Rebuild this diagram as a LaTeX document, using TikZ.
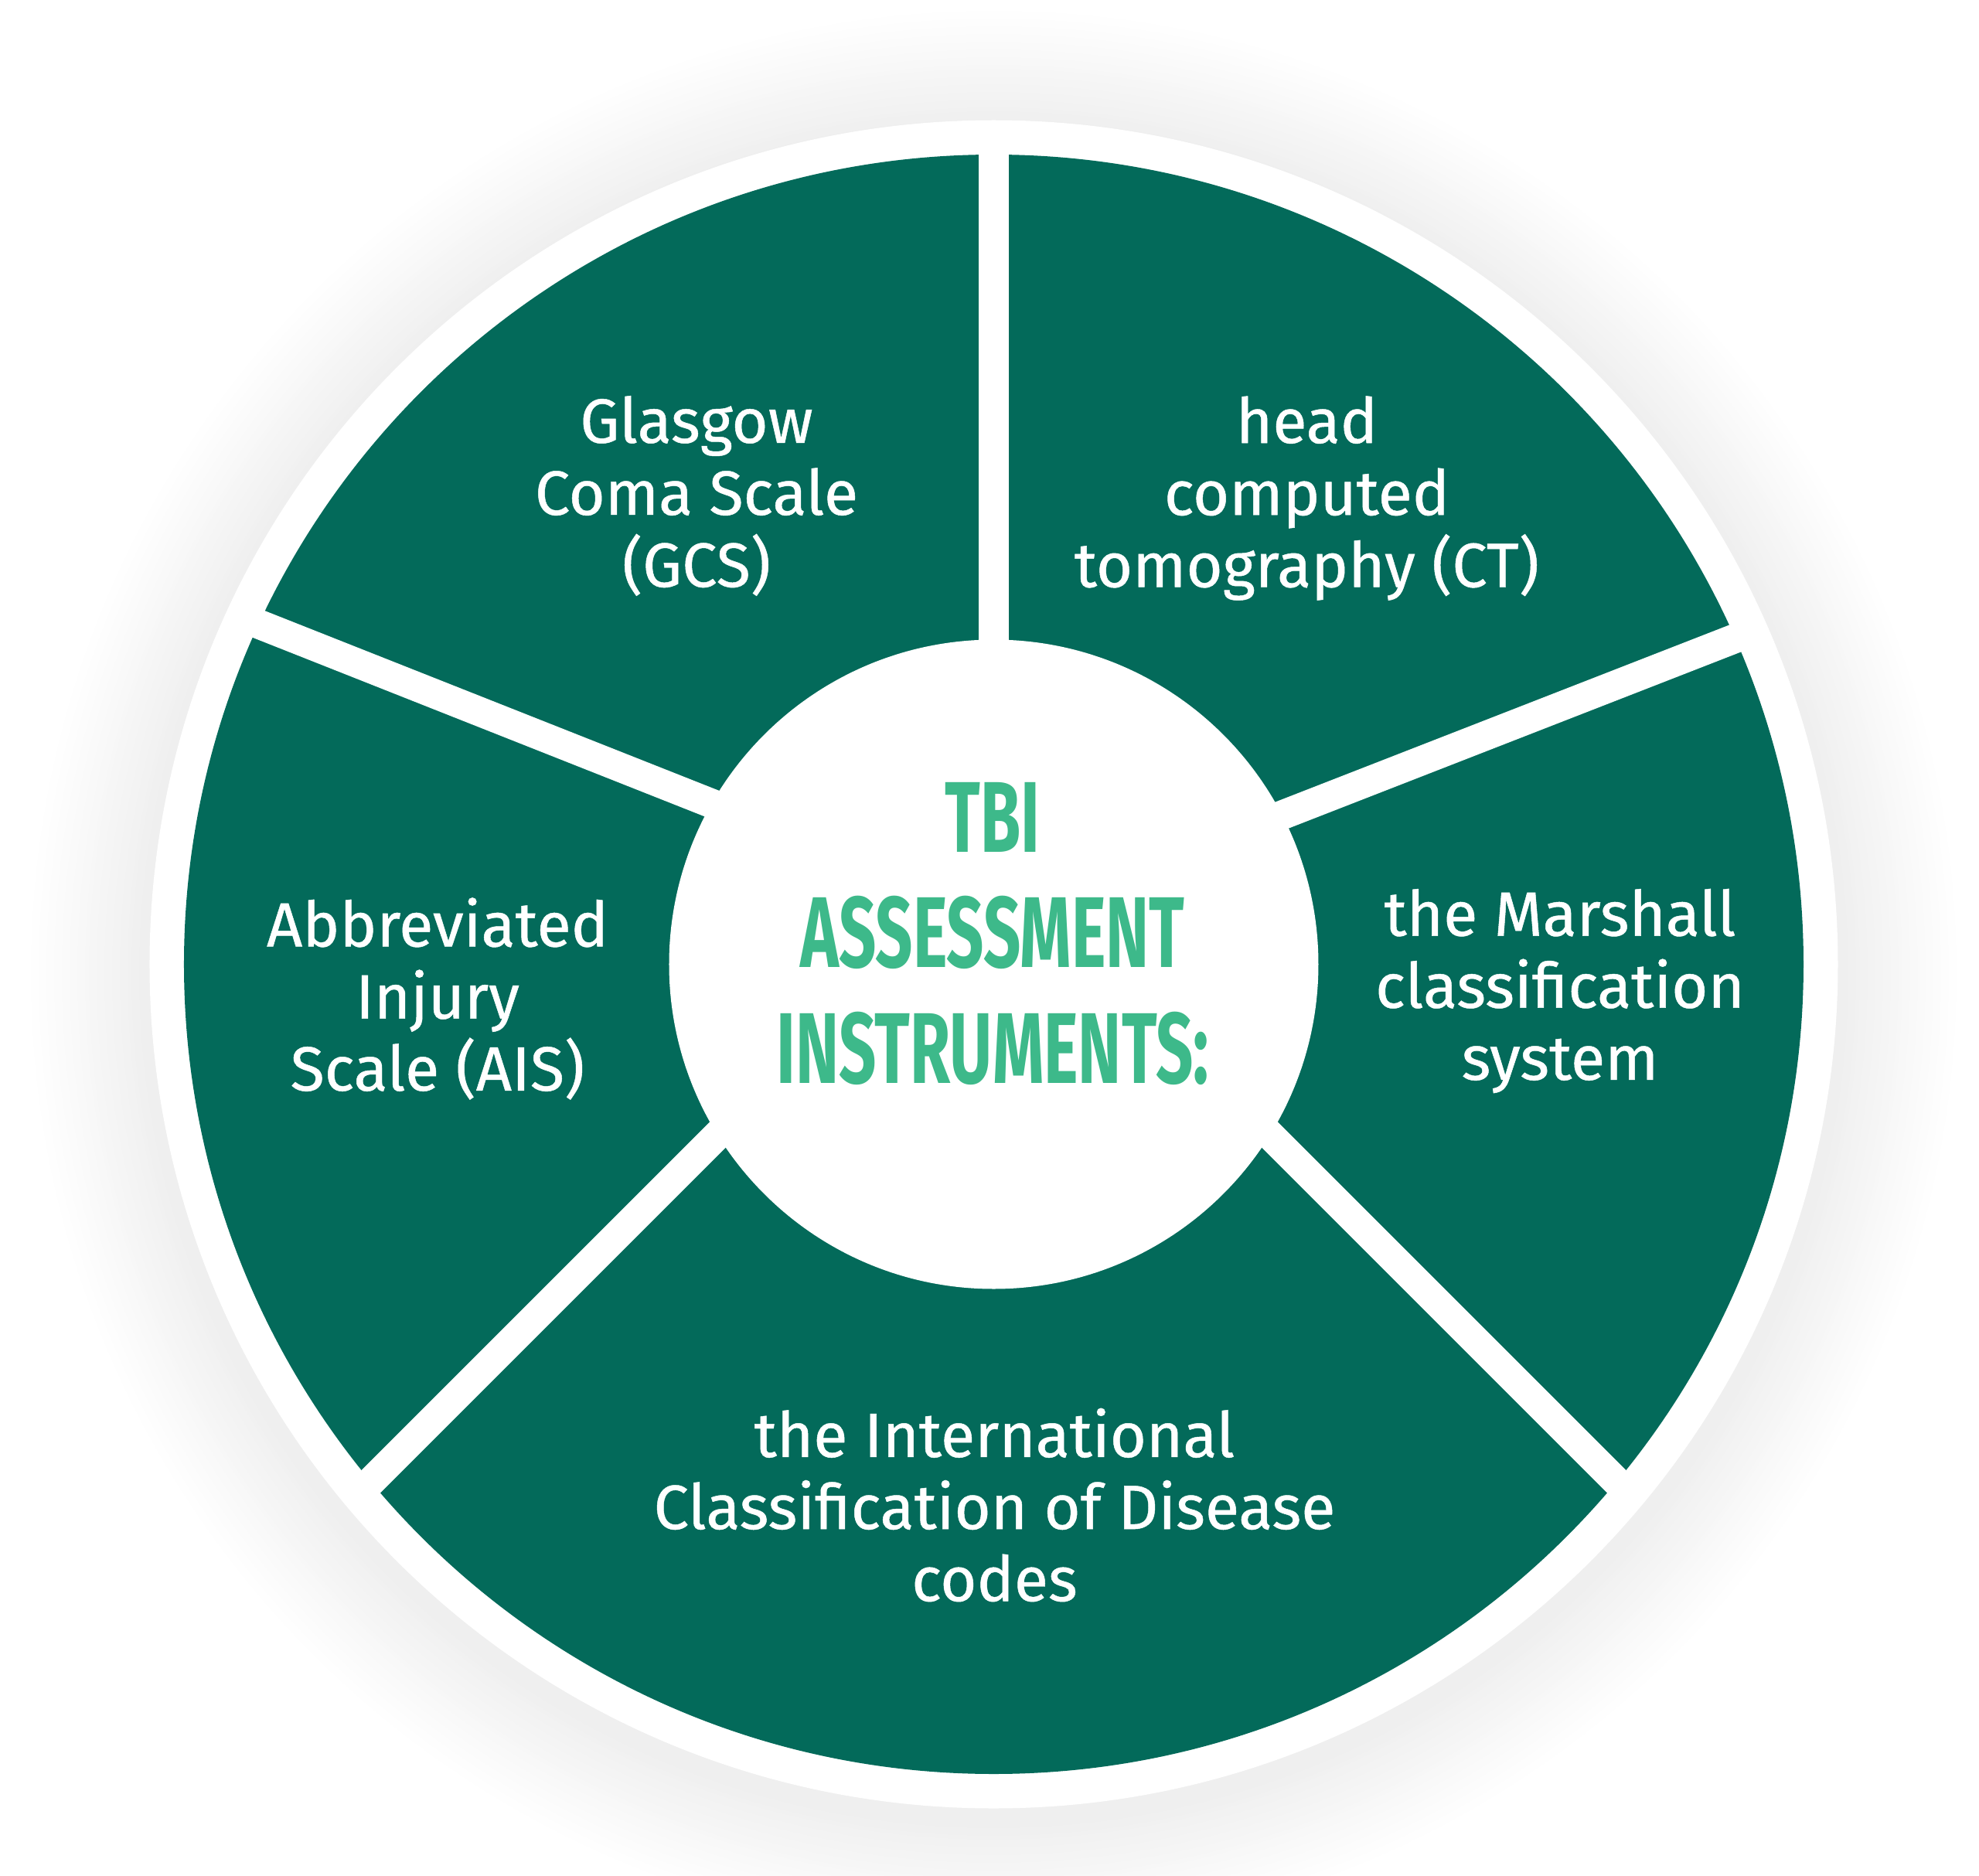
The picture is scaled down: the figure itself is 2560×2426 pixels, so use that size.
\documentclass[tikz,border=0pt]{standalone}
\usepackage{fontspec}
\setmainfont{Fira Sans}
\newfontfamily\labelfont{Fira Sans}[FakeBold=0.6]
\newfontfamily\titlefont{Fira Sans}[FakeStretch=0.65]
\definecolor{ringgreen}{HTML}{036A5A}
\definecolor{titlegreen}{HTML}{3DB98A}
\begin{document}
\begin{tikzpicture}[x=0.01cm,y=0.01cm,
  seglabel/.style={text=white, align=center, inner sep=0pt,
    font=\labelfont\fontsize{23}{26.5}\selectfont},
  titlelabel/.style={text=titlegreen, align=center, inner sep=0pt,
    font=\titlefont\bfseries\fontsize{37}{42.4}\selectfont},
  gap/.style={draw=white, line width=0.38cm}]
\useasboundingbox[fill=white] (-1285.5,-1178.5) rectangle (1274.5,1247.5);
\coordinate (O) at (0,0);
% soft shadow (graded grey rings, outermost lightest)
\foreach \i in {0,...,30}{
  \pgfmathsetmacro\shadepct{0.21*\i}
  \fill[black!\shadepct!white] (0,-12) circle ({1250-5*\i});
}
% white outer disc
\fill[white] (O) circle (1092);
% green ring
\fill[ringgreen] (O) circle (1047.5);
% gaps between the segments
\begin{scope}
  \clip (O) circle (1070);
  \draw[gap] (0,0) -- (0,1100);
  \draw[gap] (0,63.5) -- (-1100,499.1);
  \draw[gap] (0,47.5) -- (1100,476.5);
  \draw[gap] (0,136.5) -- (-1000,-863.5);
  \draw[gap] (0,136.5) -- (1000,-863.5);
\end{scope}
% inner white disc
\fill[white] (O) circle (420);
% labels
\node[titlelabel] (title) at (-1.5,39.5) {TBI\\ASSESSMENT\\INSTRUMENTS:};
\node[seglabel] (gcs) at (-384.5,606) {Glasgow\\Coma Scale\\(GCS)};
\node[seglabel] (ct) at (405,603) {head\\computed\\tomography (CT)};
\node[seglabel] (ais) at (-719.5,-44.5) {Abbreviated\\Injury\\Scale (AIS)};
\node[seglabel] (marshall) at (732.5,-34.5) {the Marshall\\classification\\system};
\node[seglabel] (icd) at (1,-699.5) {the International\\Classification of Disease\\codes};
\end{tikzpicture}
\end{document}
